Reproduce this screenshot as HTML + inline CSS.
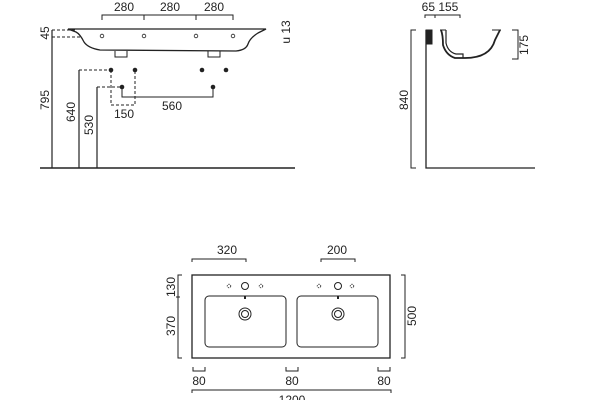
<!DOCTYPE html>
<html><head><style>html,body{margin:0;padding:0;background:#fff}svg{display:block}text{font-family:"Liberation Sans",sans-serif;font-size:12px;fill:#222}</style></head><body>
<svg width="600" height="400" viewBox="0 0 600 400" xmlns="http://www.w3.org/2000/svg" fill="none" stroke="#222" stroke-width="1">
<!-- front view -->
<path d="M102 20V15H233V20M144 15V20M196 15V20"/>
<text x="124" y="11" text-anchor="middle" stroke="none">280</text>
<text x="170" y="11" text-anchor="middle" stroke="none">280</text>
<text x="214" y="11" text-anchor="middle" stroke="none">280</text>
<path d="M68 29H266L258 33Q250 38 248 44Q246 50 236 51L100 50Q88 48 84 42Q80 34 76 32Z" stroke-width="1.3"/>
<path d="M115 51V57H127V51M208 51V57H220V51"/>
<g stroke-width="0.8"><circle cx="102" cy="36" r="1.8"/><circle cx="144" cy="36" r="1.8"/><circle cx="196" cy="36" r="1.8"/><circle cx="233" cy="36" r="1.8"/></g>
<path d="M52 30H75M52 37H80" stroke-dasharray="3,2"/>
<path d="M52 30V168M79 70V168M97 87V168" stroke-width="1.2"/>
<path d="M40 168H295" stroke-width="1.5"/>
<path d="M79 70H108M97 87H120M111 70V105H135V70" stroke-dasharray="3,2"/>
<path d="M122 87V97H213V87"/>
<g fill="#222" stroke="none"><circle cx="111" cy="70" r="2.3"/><circle cx="135" cy="70" r="2.3"/><circle cx="202" cy="70" r="2.3"/><circle cx="226" cy="70" r="2.3"/><circle cx="122" cy="87" r="2.3"/><circle cx="213" cy="87" r="2.3"/></g>
<text x="124" y="118" text-anchor="middle" stroke="none">150</text>
<text x="172" y="110" text-anchor="middle" stroke="none">560</text>
<text transform="translate(49,100) rotate(-90)" text-anchor="middle" stroke="none">795</text>
<text transform="translate(75,112) rotate(-90)" text-anchor="middle" stroke="none">640</text>
<text transform="translate(93,125) rotate(-90)" text-anchor="middle" stroke="none">530</text>
<text transform="translate(49,33) rotate(-90)" text-anchor="middle" stroke="none">45</text>
<text transform="translate(290,32) rotate(-90)" text-anchor="middle" stroke="none">u 13</text>
<!-- side view -->
<text x="440" y="11" text-anchor="middle" stroke="none">65 155</text>
<path d="M425 18V15H460V18M435 15V18"/>
<path d="M416 30H411V168H416"/>
<text transform="translate(408,100) rotate(-90)" text-anchor="middle" stroke="none">840</text>
<path d="M426 30V168H535" stroke-width="1.3"/>
<path d="M426 30H432V44H426Z" fill="#222"/>
<path d="M441 30Q443 35 443 45Q446 55 455 58H465Q490 58 495 40L500 30" stroke-width="1.8"/>
<path d="M446 30V43Q448 52 456 54H463V58" stroke-width="1.2"/>
<path d="M440 30H446M492 30H501"/>
<path d="M512 30H518V59H512"/>
<text transform="translate(528,45) rotate(-90)" text-anchor="middle" stroke="none">175</text>
<!-- top view -->
<path d="M192 262V259H246V262M321 262V259H355V262"/>
<text x="227" y="254" text-anchor="middle" stroke="none">320</text>
<text x="337" y="254" text-anchor="middle" stroke="none">200</text>
<rect x="192" y="275" width="198" height="83" stroke-width="1.3"/>
<rect x="205" y="296" width="81" height="51" rx="4"/>
<rect x="297" y="296" width="81" height="51" rx="4"/>
<circle cx="245" cy="286" r="3.5"/><circle cx="338" cy="286" r="3.5"/>
<circle cx="245" cy="314" r="6"/><circle cx="245" cy="314" r="3.5"/>
<circle cx="338" cy="314" r="6"/><circle cx="338" cy="314" r="3.5"/>
<g stroke-width="0.8" stroke-dasharray="1.5,1"><circle cx="229" cy="286" r="1.8"/><circle cx="261" cy="286" r="1.8"/><circle cx="319" cy="286" r="1.8"/><circle cx="352" cy="286" r="1.8"/></g>
<path d="M245 296v3M338 296v3" stroke-width="2"/>
<path d="M182 275H178V358H182M176 297H180"/>
<text transform="translate(175,287) rotate(-90)" text-anchor="middle" stroke="none">130</text>
<text transform="translate(175,326) rotate(-90)" text-anchor="middle" stroke="none">370</text>
<path d="M401 275H405V358H401"/>
<text transform="translate(416,316) rotate(-90)" text-anchor="middle" stroke="none">500</text>
<path d="M193 367V371H205V367M286 367V371H298V367M378 367V371H390V367"/>
<text x="199" y="385" text-anchor="middle" stroke="none">80</text>
<text x="292" y="385" text-anchor="middle" stroke="none">80</text>
<text x="384" y="385" text-anchor="middle" stroke="none">80</text>
<path d="M192 393V390H391V393"/>
<text x="292" y="404" text-anchor="middle" stroke="none">1200</text>
</svg>
</body></html>
